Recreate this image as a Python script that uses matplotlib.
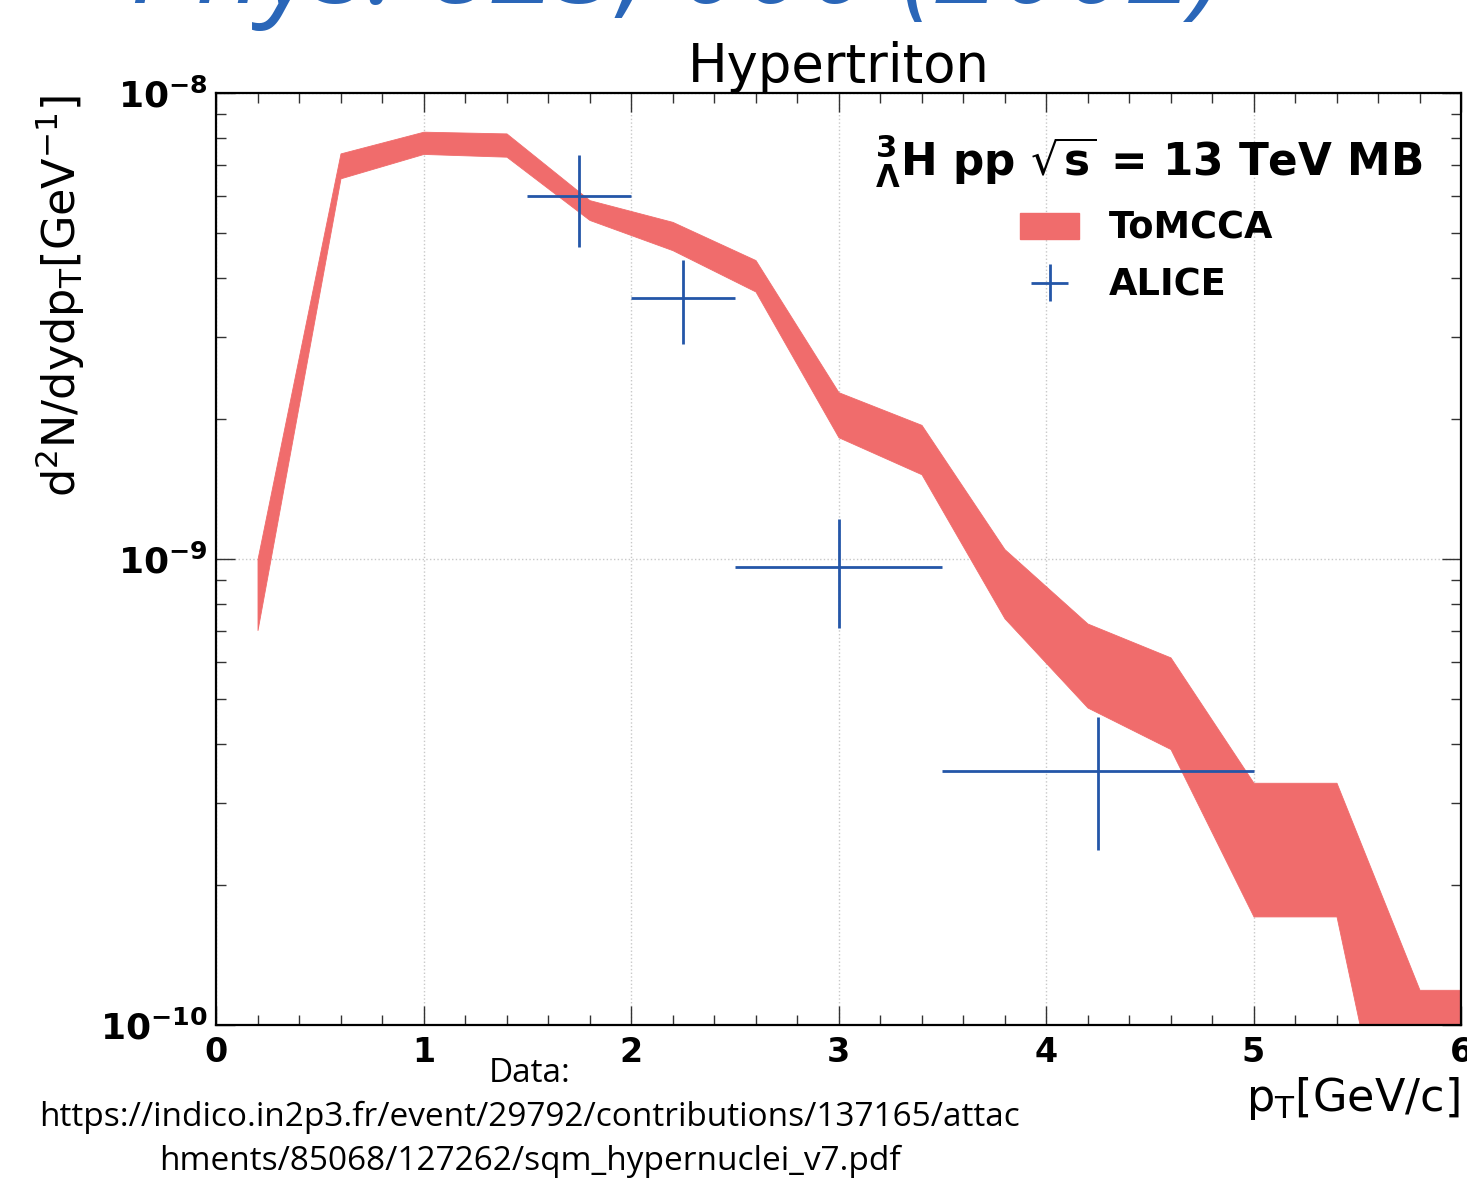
import matplotlib
matplotlib.use("Agg")
import matplotlib.pyplot as plt
from matplotlib.patches import Patch
from matplotlib.ticker import FixedLocator, MultipleLocator, LogLocator, NullFormatter

# ToMCCA band (pT bin centres, lower / upper edge)
band_pt = [0.2, 0.6, 1.0, 1.4, 1.8, 2.2, 2.6, 3.0, 3.4, 3.8, 4.2, 4.6, 5.0, 5.4, 5.8, 6.0]
band_hi = [1.00e-9, 7.42e-9, 8.26e-9, 8.19e-9, 5.89e-9, 5.29e-9, 4.38e-9, 2.28e-9,
           1.94e-9, 1.05e-9, 7.27e-10, 6.15e-10, 3.31e-10, 3.31e-10, 1.19e-10, 1.19e-10]
band_lo = [7.04e-10, 6.56e-9, 7.40e-9, 7.30e-9, 5.34e-9, 4.60e-9, 3.75e-9, 1.825e-9,
           1.52e-9, 7.46e-10, 4.80e-10, 3.91e-10, 1.71e-10, 1.71e-10, 2.5e-11, 2.5e-11]

# ALICE points
alice_pt = [1.75, 2.25, 3.0, 4.25]
alice_pt_lo = [1.5, 2.0, 2.5, 3.5]
alice_pt_hi = [2.0, 2.5, 3.5, 5.0]
alice_y = [6.0e-9, 3.64e-9, 9.6e-10, 3.5e-10]
alice_y_lo = [4.67e-9, 2.90e-9, 7.1e-10, 2.38e-10]
alice_y_hi = [7.36e-9, 4.38e-9, 1.22e-9, 4.59e-10]

x_ticks = [0, 1, 2, 3, 4, 5, 6]
y_ticks = [1e-10, 1e-9, 1e-8]
y_ticklabels = [r"$\mathbf{10^{-10}}$", r"$\mathbf{10^{-9}}$", r"$\mathbf{10^{-8}}$"]

RED = "#f06c6c"
BLUE = "#2456a8"

fig = plt.figure(figsize=(14.67, 11.8), dpi=100)
ax = fig.add_axes([216 / 1467, 1 - 1025 / 1180, 1245 / 1467, 932 / 1180])

ax.fill_between(band_pt, band_lo, band_hi, color=RED, lw=0.6, edgecolor=RED, zorder=2)

xerr = [[c - l for c, l in zip(alice_pt, alice_pt_lo)],
        [h - c for c, h in zip(alice_pt, alice_pt_hi)]]
yerr = [[c - l for c, l in zip(alice_y, alice_y_lo)],
        [h - c for c, h in zip(alice_y, alice_y_hi)]]
eb = ax.errorbar(alice_pt, alice_y, xerr=xerr, yerr=yerr, fmt="none",
                 ecolor=BLUE, elinewidth=2.0, capsize=0, zorder=3)

ax.set_yscale("log")
ax.set_xlim(0, 6)
ax.set_ylim(1e-10, 1e-8)

ax.xaxis.set_major_locator(FixedLocator(x_ticks))
ax.xaxis.set_minor_locator(MultipleLocator(0.2))
ax.yaxis.set_major_locator(FixedLocator(y_ticks))
ax.yaxis.set_minor_locator(LogLocator(base=10, subs=range(2, 10)))
ax.yaxis.set_minor_formatter(NullFormatter())
ax.set_xticklabels([str(t) for t in x_ticks], fontsize=24, fontweight="bold")
ax.set_yticklabels(y_ticklabels, fontsize=26)

ax.tick_params(which="both", direction="in", top=True, right=True, width=1.0, color="#333333")
ax.tick_params(which="major", length=14)
ax.tick_params(which="minor", length=7)
ax.tick_params(axis="x", which="major", pad=8)
ax.tick_params(axis="y", which="major", pad=6)
for s in ax.spines.values():
    s.set_linewidth(1.6)

ax.grid(True, which="major", linestyle=":", color="#c8c8c8", lw=1.0, zorder=0)

ax.set_title("Hypertriton", fontsize=38, pad=2)

fig.text(60 / 1467, 1 - 95 / 1180, r"d$^{2}$N/dydp$_{\mathrm{T}}$[GeV$^{-1}$]",
         rotation=90, ha="center", va="top", fontsize=32)
fig.text(1460 / 1467, 1 - 1098 / 1180, r"p$_{\mathrm{T}}$[GeV/c]",
         ha="right", va="center", fontsize=32)

ax.text(0.529, 0.911, r"$^{\mathbf{3}}_{\mathbf{\Lambda}}$H pp $\sqrt{\mathbf{s}}$ = 13 TeV MB",
        transform=ax.transAxes, fontsize=31.5, fontweight="bold", va="baseline", ha="left")

handles = [Patch(facecolor=RED, edgecolor=RED), eb]
leg = ax.legend(handles, ["ToMCCA", "ALICE"], loc="upper left",
                bbox_to_anchor=(0.646, 0.875), frameon=False, borderpad=0,
                borderaxespad=0, handlelength=1.6, handletextpad=0.8,
                labelspacing=0.55, prop={"size": 26.5, "weight": "bold"})

# source note
fig.text(530 / 1467, 1 - 1073 / 1180, "Data:", ha="center", va="center",
         fontsize=24, family="Open Sans")
fig.text(530 / 1467, 1 - 1117 / 1180,
         "https://indico.in2p3.fr/event/29792/contributions/137165/attac",
         ha="center", va="center", fontsize=24, family="Open Sans")
fig.text(530 / 1467, 1 - 1161 / 1180, "hments/85068/127262/sqm_hypernuclei_v7.pdf",
         ha="center", va="center", fontsize=24, family="Open Sans")

# slide heading, mostly cut off at the top edge (as in the source image)
fig.text(130 / 1467, 1 - 3 / 1180, "Phys. 825, 000 (2002)", ha="left", va="baseline",
         fontsize=84, style="italic", color="#2a66b8", family="Open Sans")

fig.savefig("out.png", dpi=100)
